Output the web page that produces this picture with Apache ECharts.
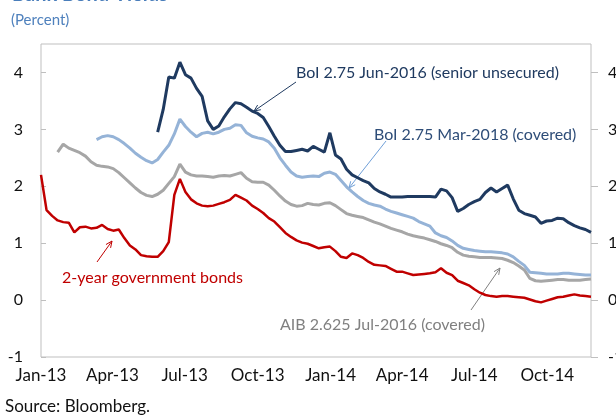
<!DOCTYPE html>
<html><head><meta charset="utf-8">
<script src="https://cdn.jsdelivr.net/npm/echarts@6/dist/echarts.min.js"></script>
<style>html,body{margin:0;padding:0;background:#fff}#c{width:616px;height:419px}</style>
</head><body><div id="c"></div>
<script>
// Weekly observations from 1 Jan 2013 (100 weeks); x = days since 1 Jan 2013
const firstWeek = [2013, 0, 1];
const weekCount = 100;
const tickDates = [[2013,0,1],[2013,3,1],[2013,6,1],[2013,9,1],[2014,0,1],[2014,3,1],[2014,6,1],[2014,9,1]];
const tickLabels = ['Jan-13','Apr-13','Jul-13','Oct-13','Jan-14','Apr-14','Jul-14','Oct-14'];
const yTicks = [-1, 0, 1, 2, 3, 4];

const govt2y = [2.20,1.58,1.48,1.40,1.37,1.36,1.19,1.28,1.29,1.26,
1.27,1.32,1.25,1.22,1.24,1.09,0.96,0.89,0.79,0.77,
0.76,0.76,0.86,1.02,1.85,2.13,1.90,1.77,1.70,1.66,
1.65,1.66,1.69,1.72,1.76,1.85,1.80,1.75,1.66,1.60,
1.53,1.44,1.38,1.28,1.18,1.11,1.05,1.01,0.99,0.95,
0.91,0.93,0.94,0.86,0.76,0.74,0.82,0.79,0.74,0.67,
0.62,0.61,0.60,0.55,0.50,0.50,0.47,0.44,0.45,0.46,
0.47,0.49,0.56,0.48,0.44,0.34,0.30,0.26,0.19,0.13,
0.09,0.07,0.06,0.07,0.07,0.06,0.05,0.04,0.01,-0.02,
-0.04,-0.01,0.02,0.05,0.06,0.08,0.10,0.08,0.07,0.06];

const aibCovered = [null,null,null,2.60,2.74,2.67,2.63,2.59,2.53,2.43,
2.37,2.35,2.34,2.31,2.24,2.15,2.06,1.97,1.89,1.84,
1.82,1.86,1.93,2.05,2.17,2.39,2.25,2.20,2.18,2.18,
2.17,2.16,2.18,2.19,2.18,2.21,2.24,2.14,2.08,2.07,
2.07,2.02,1.93,1.83,1.74,1.68,1.65,1.66,1.70,1.68,
1.67,1.70,1.71,1.66,1.59,1.52,1.49,1.47,1.45,1.41,
1.37,1.34,1.30,1.26,1.23,1.20,1.16,1.13,1.11,1.09,
1.06,1.03,0.99,0.96,0.92,0.84,0.79,0.77,0.76,0.75,
0.75,0.75,0.74,0.73,0.70,0.66,0.60,0.53,0.38,0.34,
0.33,0.34,0.35,0.36,0.36,0.35,0.35,0.35,0.36,0.37];

const boiCovered = [null,null,null,null,null,null,null,null,null,null,
2.82,2.87,2.89,2.87,2.82,2.75,2.67,2.58,2.51,2.45,
2.41,2.47,2.60,2.72,2.92,3.18,3.05,2.95,2.87,2.93,
2.95,2.92,2.95,3.00,3.02,3.08,3.07,2.94,2.88,2.85,
2.83,2.78,2.67,2.50,2.37,2.25,2.18,2.16,2.17,2.18,
2.17,2.23,2.25,2.21,2.10,1.99,1.90,1.82,1.75,1.70,
1.67,1.65,1.60,1.56,1.53,1.50,1.47,1.44,1.38,1.34,
1.30,1.18,1.13,1.10,1.04,0.96,0.91,0.89,0.87,0.86,
0.85,0.85,0.84,0.83,0.81,0.76,0.68,0.61,0.49,0.48,
0.47,0.46,0.46,0.46,0.47,0.47,0.46,0.45,0.44,0.44];

const boiSenior = [null,null,null,null,null,null,null,null,null,null,
null,null,null,null,null,null,null,null,null,null,
null,2.95,3.35,3.92,3.90,4.18,3.96,3.90,3.72,3.58,
3.15,3.00,3.06,3.22,3.36,3.47,3.45,3.39,3.32,3.28,
3.21,3.05,2.88,2.72,2.61,2.61,2.63,2.65,2.62,2.70,
2.65,2.60,2.94,2.55,2.48,2.30,2.20,2.15,2.10,2.06,
1.96,1.90,1.86,1.81,1.81,1.81,1.82,1.82,1.82,1.82,
1.82,1.81,1.95,1.92,1.80,1.56,1.61,1.68,1.73,1.77,
1.89,1.97,1.90,1.96,2.02,1.78,1.58,1.52,1.49,1.46,
1.35,1.39,1.40,1.44,1.43,1.36,1.31,1.27,1.24,1.19];

const DAY = 86400000;
const t0 = Date.UTC(firstWeek[0], firstWeek[1], firstWeek[2]);
const days = [];
for (let i = 0; i < weekCount; i++) days.push(Math.round((Date.UTC(firstWeek[0], firstWeek[1], firstWeek[2] + 7 * i) - t0) / DAY));
const tickDays = tickDates.map(d => Math.round((Date.UTC(d[0], d[1], d[2]) - t0) / DAY));
const pair = arr => days.map((d, i) => [d, arr[i]]);

const FONT = 'Lato, "Open Sans", sans-serif';
const chart = echarts.init(document.getElementById('c'), null, {renderer: 'canvas'});

function arrow(x1, y1, x2, y2, color) {
  const a = Math.atan2(y2 - y1, x2 - x1), L = 7, w = 0.42;
  return [
    {type: 'line', shape: {x1, y1, x2, y2}, style: {stroke: color, lineWidth: 1}, silent: true},
    {type: 'polyline', shape: {points: [
      [x2 - L * Math.cos(a - w), y2 - L * Math.sin(a - w)], [x2, y2],
      [x2 - L * Math.cos(a + w), y2 - L * Math.sin(a + w)]]},
      style: {stroke: color, lineWidth: 1, fill: null}, silent: true}
  ];
}
function label(text, x, y, color, size, weight) {
  return {type: 'text', x, y, silent: true, style: {text, fill: color,
    font: (weight || 'normal') + ' ' + size + 'px ' + FONT,
    align: 'left', verticalAlign: 'middle', textAlign: 'left', textVerticalAlign: 'middle'}};
}

const NAVY = '#1f3a60', LBLUE = '#95b3d7', GRAY = '#a6a6a6', RED = '#c00000';

chart.setOption({
  animation: false,
  backgroundColor: '#fff',
  grid: {left: 41, right: 25, top: 44, bottom: 62, show: true, borderColor: '#bfbfbf', borderWidth: 1,
         containLabel: false, outerBoundsMode: 'none'},
  xAxis: {
    type: 'value', min: days[0], max: days[days.length - 1],
    axisLine: {show: false}, axisTick: {show: false}, splitLine: {show: false},
    axisLabel: {customValues: tickDays, color: '#111', fontFamily: FONT, fontSize: 17, margin: 10,
      formatter: v => { const i = tickDays.indexOf(v); return i >= 0 ? tickLabels[i] : ''; }}
  },
  yAxis: [
    {type: 'value', min: -1, max: 4.5, position: 'left',
     splitLine: {show: false}, axisLine: {show: false},
     axisTick: {show: true, inside: true, length: 5, customValues: yTicks, lineStyle: {color: '#bfbfbf'}},
     axisLabel: {customValues: yTicks, color: '#111', fontFamily: FONT, fontSize: 16, margin: 18}},
    {type: 'value', min: -1, max: 4.5, position: 'right',
     splitLine: {show: false}, axisLine: {show: false},
     axisTick: {show: true, inside: false, length: 7, customValues: yTicks, lineStyle: {color: '#bfbfbf'}},
     axisLabel: {customValues: yTicks, color: '#111', fontFamily: FONT, fontSize: 16, margin: 17}}
  ],
  series: [
    {name: 'AIB 2.625 Jul-2016 (covered)', type: 'line', data: pair(aibCovered), showSymbol: false,
     lineStyle: {color: GRAY, width: 3}, itemStyle: {color: GRAY}},
    {name: 'BoI 2.75 Mar-2018 (covered)', type: 'line', data: pair(boiCovered), showSymbol: false,
     lineStyle: {color: LBLUE, width: 3}, itemStyle: {color: LBLUE}},
    {name: '2-year government bonds', type: 'line', data: pair(govt2y), showSymbol: false,
     lineStyle: {color: RED, width: 2.5}, itemStyle: {color: RED}},
    {name: 'BoI 2.75 Jun-2016 (senior unsecured)', type: 'line', data: pair(boiSenior), showSymbol: false,
     lineStyle: {color: NAVY, width: 3}, itemStyle: {color: NAVY}}
  ],
  graphic: [
    label('Bank Bond Yields', 12, -5, '#4a7ebb', 20, 'bold'),
    label('(Percent)', 11, 20, '#4f81bd', 15),
    label('Source: Bloomberg.', 5, 407, '#111', 17),
    label('BoI 2.75 Jun-2016 (senior unsecured)', 296, 73, '#1f3a60', 16),
    ...arrow(296, 82, 254, 111, '#1f3a60'),
    label('BoI 2.75 Mar-2018 (covered)', 374, 135, '#2e4d78', 16),
    ...arrow(386, 141, 349, 188, '#6f9fd8'),
    label('2-year government bonds', 62, 278, '#c00000', 16),
    ...arrow(97, 262, 112, 241, '#c00000'),
    label('AIB 2.625 Jul-2016 (covered)', 280, 325, '#808080', 16),
    ...arrow(471, 310, 500, 268, '#808080')
  ]
});
</script></body></html>
